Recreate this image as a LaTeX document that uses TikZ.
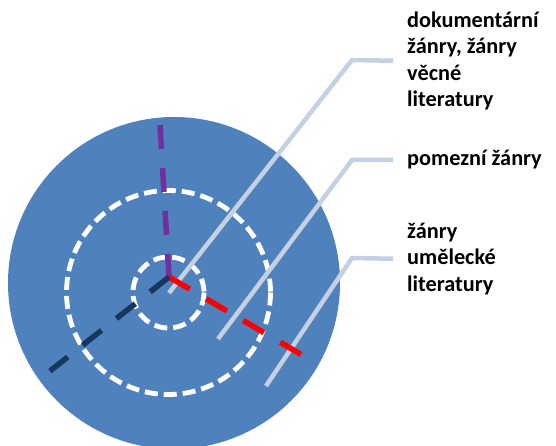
\documentclass[tikz,border=0pt]{standalone}
\usepackage{fontspec}
\setmainfont{Carlito}
\usetikzlibrary{positioning}
\definecolor{kruhmodra}{RGB}{79,129,189}
\definecolor{popiska}{RGB}{197,208,227}
\definecolor{fialova}{RGB}{112,48,160}
\definecolor{tmavomodra}{RGB}{23,55,94}

\begin{document}
\begin{tikzpicture}[x=1pt,y=-1pt,font=\fontsize{22.3}{26.5}\selectfont\bfseries,
	bila/.style={white,line width=4.8pt,dash pattern=on 13pt off 6pt},
	paprsek/.style={line width=5.5pt,dash pattern=on 24pt off 19pt},
	odkaz/.style={popiska,line width=4.5pt,shorten >=14pt},
	zanr/.style={anchor=west,align=left,inner sep=0pt}]
		\useasboundingbox (0,0) rectangle (556,446);
		\fill[kruhmodra] (174,283) circle[radius=166];
		\coordinate (S) at (168.5,292.5);
		\draw[bila] (S) circle[radius=102];
		\draw[bila] (S) circle[radius=35.5];

		% popisky
		\node[zanr] (z1) at (407,61) {dokumentární\\žánry, žánry\\věcné\\literatury};
		\node[zanr] (z2) at (407,160) {pomezní žánry};
		\node[zanr] (z3) at (407,259) {žánry\\umělecké\\literatury};

		\foreach \i/\tx/\ty/\ey in {1/169/293/60, 2/218/339/160, 3/266/386/258}{
			\coordinate (t\i) at (\tx,\ty);
			\coordinate (e\i) at (352,\ey);
			\draw[odkaz] (t\i) -- (e\i) -- (z\i.west);}

		% paprsky
		\coordinate (O) at (169,277);
		\coordinate (A) at (160,125);
		\coordinate (B) at (302,355);
		\coordinate (C) at (50,371);
		\draw[paprsek,fialova] (A) -- (O);
		\draw[paprsek,red] (O) -- (B);
		\draw[paprsek,tmavomodra] (O) -- (C);
		\end{tikzpicture}
\end{document}
